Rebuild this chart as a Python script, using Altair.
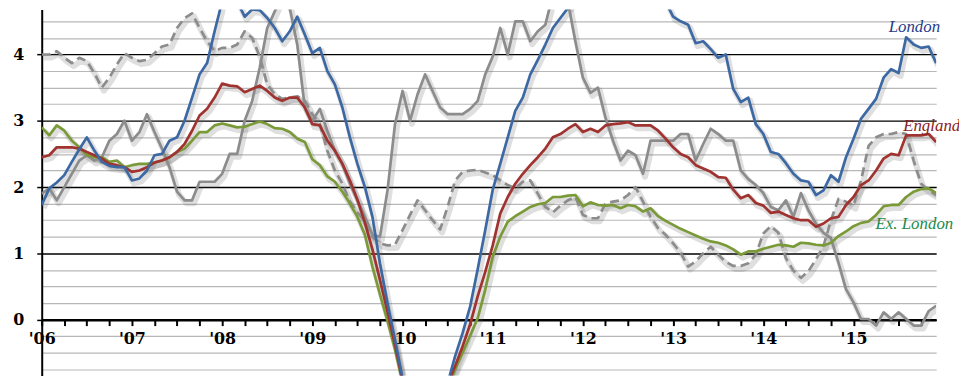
import json
import altair as alt
import pandas as pd

# ---- data (monthly, Jan 2006 = 0 ... Dec 2015 = 119) ----
months = list(range(120))
year_labels = ["'06", "'07", "'08", "'09", "'10", "'11", "'12", "'13", "'14", "'15"]

london = [
    1.73, 1.98, 2.07, 2.18, 2.38, 2.57, 2.75, 2.55, 2.38, 2.32,
    2.30, 2.30, 2.10, 2.13, 2.25, 2.48, 2.50, 2.70, 2.75, 3.00,
    3.35, 3.70, 3.87, 4.35, 4.80, 4.85, 4.80, 4.57, 4.68, 4.67,
    4.55, 4.40, 4.20, 4.35, 4.57, 4.30, 4.02, 4.10, 3.75, 3.55,
    3.20, 2.75, 2.35, 2.00, 1.55, 0.85, 0.25, -0.30, -0.88, -1.60,
    -2.10, -2.30, -2.10, -1.60, -0.96, -0.55, -0.20, 0.20, 0.76, 1.35,
    1.96, 2.35, 2.75, 3.15, 3.35, 3.70, 3.92, 4.15, 4.40, 4.55,
    4.70, 4.85, 5.00, 5.10, 5.15, 5.20, 5.15, 5.10, 5.05, 5.00,
    4.98, 4.95, 4.90, 4.80, 4.57, 4.50, 4.45, 4.17, 4.20, 4.08,
    3.95, 4.00, 3.48, 3.28, 3.35, 2.95, 2.80, 2.53, 2.50, 2.36,
    2.20, 2.10, 2.08, 1.88, 1.95, 2.18, 2.08, 2.45, 2.73, 3.03,
    3.18, 3.33, 3.65, 3.78, 3.72, 4.26, 4.15, 4.10, 4.12, 3.87,
]
england = [
    2.45, 2.48, 2.60, 2.60, 2.60, 2.58, 2.53, 2.48, 2.43, 2.35,
    2.33, 2.30, 2.23, 2.25, 2.30, 2.37, 2.40, 2.45, 2.53, 2.65,
    2.85, 3.08, 3.18, 3.35, 3.56, 3.53, 3.52, 3.43, 3.48, 3.53,
    3.45, 3.35, 3.30, 3.35, 3.35, 3.20, 2.95, 2.93, 2.70, 2.55,
    2.35, 2.10, 1.81, 1.46, 1.06, 0.60, 0.12, -0.38, -0.92, -1.70,
    -2.20, -2.40, -2.20, -1.70, -0.98, -0.70, -0.40, -0.07, 0.35, 0.72,
    1.12, 1.60, 1.85, 2.05, 2.20, 2.33, 2.45, 2.58, 2.75, 2.80,
    2.88, 2.95, 2.83, 2.88, 2.83, 2.93, 2.95, 2.96, 2.98, 2.93,
    2.93, 2.93, 2.85, 2.73, 2.60, 2.50, 2.45, 2.33, 2.28, 2.23,
    2.15, 2.14, 1.96, 1.83, 1.88, 1.76, 1.72, 1.61, 1.63, 1.58,
    1.53, 1.50, 1.50, 1.40, 1.45, 1.53, 1.55, 1.73, 1.85, 2.03,
    2.10, 2.25, 2.43, 2.50, 2.48, 2.78, 2.78, 2.78, 2.80, 2.68,
]
ex_london = [
    2.90, 2.78, 2.93, 2.85, 2.70, 2.60, 2.48, 2.45, 2.45, 2.38,
    2.40, 2.30, 2.33, 2.35, 2.35, 2.37, 2.40, 2.45, 2.53, 2.58,
    2.70, 2.83, 2.83, 2.93, 2.96, 2.93, 2.90, 2.91, 2.95, 2.99,
    2.95, 2.89, 2.88, 2.83, 2.73, 2.68, 2.42, 2.33, 2.16, 2.08,
    1.93, 1.75, 1.55, 1.28, 0.80, 0.38, -0.02, -0.45, -0.95, -1.75,
    -2.25, -2.45, -2.25, -1.75, -1.05, -0.75, -0.50, -0.24, 0.02, 0.45,
    0.95, 1.25, 1.48, 1.56, 1.63, 1.70, 1.74, 1.76, 1.85, 1.85,
    1.87, 1.88, 1.71, 1.77, 1.73, 1.72, 1.73, 1.68, 1.73, 1.71,
    1.63, 1.68, 1.56, 1.49, 1.43, 1.37, 1.32, 1.27, 1.22, 1.18,
    1.16, 1.12, 1.06, 0.98, 1.03, 1.03, 1.07, 1.10, 1.13, 1.12,
    1.10, 1.16, 1.15, 1.13, 1.12, 1.16, 1.26, 1.33, 1.41, 1.46,
    1.48, 1.58, 1.71, 1.73, 1.73, 1.85, 1.93, 1.97, 1.98, 1.91,
]
gray_solid = [
    1.90, 1.98, 1.80, 2.00, 2.20, 2.40, 2.48, 2.40, 2.45, 2.70,
    2.80, 3.00, 2.70, 2.83, 3.10, 2.83, 2.58, 2.30, 1.93, 1.80,
    1.80, 2.08, 2.08, 2.08, 2.20, 2.50, 2.50, 3.00, 3.30, 3.80,
    4.40, 4.65, 4.90, 4.70, 4.15, 3.20, 3.00, 3.18, 2.85, 2.55,
    2.35, 2.05, 1.80, 1.55, 1.28, 1.25, 1.95, 2.95, 3.45, 3.00,
    3.40, 3.70, 3.45, 3.20, 3.10, 3.10, 3.10, 3.18, 3.30, 3.70,
    3.97, 4.40, 4.00, 4.50, 4.50, 4.20, 4.35, 4.45, 4.90, 5.00,
    4.80, 4.20, 3.65, 3.42, 3.50, 3.05, 2.70, 2.40, 2.55, 2.48,
    2.20, 2.70, 2.70, 2.70, 2.70, 2.80, 2.80, 2.40, 2.65, 2.88,
    2.80, 2.70, 2.70, 2.25, 2.12, 2.03, 1.91, 1.70, 1.65, 1.80,
    1.55, 1.91, 1.65, 1.45, 1.31, 1.23, 0.86, 0.46, 0.26, 0.01,
    0.01, -0.09, 0.11, 0.01, 0.11, 0.01, -0.09, -0.09, 0.13, 0.21,
]
gray_dashed = [
    4.00, 4.00, 4.05, 3.95, 3.87, 3.95, 3.90, 3.72, 3.50, 3.65,
    3.85, 4.02, 3.95, 3.90, 3.92, 4.02, 4.12, 4.15, 4.40, 4.55,
    4.62, 4.40, 4.20, 4.05, 4.10, 4.10, 4.15, 4.35, 4.25, 3.97,
    3.55, 3.40, 3.33, 3.35, 3.37, 3.30, 3.10, 2.95, 2.55, 2.25,
    2.05, 1.78, 1.62, 1.48, 1.25, 1.15, 1.12, 1.13, 1.35, 1.58,
    1.80, 1.65, 1.50, 1.36, 1.70, 2.10, 2.23, 2.25, 2.26, 2.22,
    2.18, 2.10, 2.03, 1.98, 2.08, 2.10, 1.90, 1.70, 1.62, 1.72,
    1.80, 1.85, 1.58, 1.53, 1.53, 1.75, 1.78, 1.80, 1.88, 2.00,
    1.78, 1.55, 1.38, 1.28, 1.15, 1.01, 0.80, 0.88, 1.00, 1.10,
    0.98, 0.87, 0.81, 0.81, 0.85, 0.98, 1.30, 1.41, 1.31, 0.93,
    0.74, 0.63, 0.73, 0.91, 1.11, 1.50, 1.82, 1.78, 1.72, 2.10,
    2.62, 2.75, 2.80, 2.80, 2.83, 2.80, 2.40, 2.05, 1.95, 1.88,
]

label_texts = ["London", "England", "Ex. London"]

# ---- layout ----
W, H = 902, 369
Y_TOP, Y_BOT = 4.678, -0.842
zero_px = H * Y_TOP / (Y_TOP - Y_BOT)

x_enc = alt.X(
    "m:Q",
    scale=alt.Scale(domain=[0, 119], nice=False, zero=False),
    axis=alt.Axis(
        values=list(range(0, 120, 3)),
        labelExpr='datum.value % 12 === 0 ? ' + json.dumps(year_labels) + '[datum.value / 12] : ""',
        offset=-(H - zero_px),
        domain=True, ticks=True,
        domainColor="#000000", domainWidth=2.5,
        tickColor="#000000", tickWidth=2, tickSize=6,
        labelFont="DejaVu Serif", labelFontWeight="bold", labelFontSize=16,
        labelColor="#000000", labelPadding=5,
        labelFlush=False, labelOverlap=False, grid=False, title=None,
    ),
)
int_test = "abs(datum.value - round(datum.value)) < 0.001"
y_enc = alt.Y(
    "v:Q",
    scale=alt.Scale(domain=[Y_BOT, Y_TOP], nice=False, zero=False),
    axis=alt.Axis(
        values=[-0.75 + 0.25 * i for i in range(22)],
        grid=True,
        gridColor={"condition": {"test": int_test, "value": "#000000"}, "value": "#b8b8b8"},
        gridWidth={"condition": {"test": int_test, "value": 1.4}, "value": 1.2},
        tickSize={"condition": {"test": int_test, "value": 5}, "value": 0},
        tickColor="#000000", tickWidth=1.5,
        domainColor="#000000", domainWidth=2,
        labelExpr=f'{int_test} ? format(datum.value, "d") : ""',
        labelFont="DejaVu Serif", labelFontWeight="bold", labelFontSize=16,
        labelColor="#000000", labelPadding=13, labelOverlap=False, title=None,
    ),
)

series = [
    ("gray_dashed", gray_dashed, "#8c8c8c", [9, 5]),
    ("gray_solid", gray_solid, "#8c8c8c", None),
    ("Ex. London", ex_london, "#7a9a38", None),
    ("England", england, "#a0322f", None),
    ("London", london, "#3c68a4", None),
]

shadow_layers = []
line_layers = []
for name, vals, color, dash in series:
    d = pd.DataFrame({"m": months, "v": vals})
    shadow_layers.append(
        alt.Chart(d).mark_line(color="#606060", opacity=0.2, strokeWidth=6,
                               xOffset=2, yOffset=3, clip=True, strokeJoin="round")
        .encode(x=x_enc, y=y_enc)
    )
    kw = dict(color=color, strokeWidth=2.7, clip=True, strokeJoin="round")
    if dash:
        kw["strokeDash"] = dash
    line_layers.append(alt.Chart(d).mark_line(**kw).encode(x=x_enc, y=y_enc))

# annotation labels (placed in data units)
lab = pd.DataFrame({
    "t": label_texts,
    "m": [116.1, 118.4, 116.1],
    "v": [4.34, 2.84, 1.36],
    "c": ["#1f3c8a", "#8b1c1c", "#218a4c"],
})
labels = alt.Chart(lab).mark_text(
    font="Liberation Serif", fontStyle="italic", fontSize=17,
    align="center", baseline="alphabetic",
).encode(x=x_enc, y=y_enc, text="t:N", color=alt.Color("c:N", scale=None))

chart = alt.layer(*shadow_layers, *line_layers, labels).properties(
    width=W, height=H,
    autosize=alt.AutoSizeParams(type="none"),
    padding={"left": 34, "top": 0, "right": 23, "bottom": 0},
).configure_view(stroke=None)

chart.save("out.html", embed_options={"renderer": "svg", "actions": False})
